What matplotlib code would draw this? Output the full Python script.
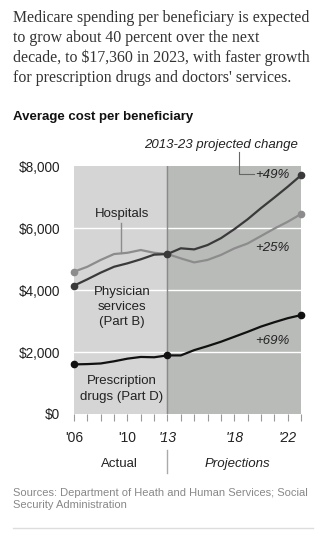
import numpy as np
import matplotlib.pyplot as plt
from matplotlib.ticker import FuncFormatter

# Average cost per beneficiary, dollars
years = list(range(2006, 2024))
physician = [4140, 4345, 4560, 4750, 4860, 4990, 5140, 5160, 5345, 5310,
             5450, 5670, 5960, 6280, 6640, 6980, 7330, 7700]
hospitals = [4590, 4750, 4970, 5160, 5200, 5290, 5200, 5160, 5020, 4890,
             4970, 5130, 5340, 5500, 5740, 5980, 6200, 6450]
drugs = [1600, 1610, 1630, 1700, 1785, 1840, 1830, 1890, 1890, 2060,
         2190, 2330, 2490, 2650, 2820, 2960, 3090, 3190]
changes = ["+49%", "+25%", "+69%"]
yticks = [0, 2000, 4000, 6000, 8000]
xlabel_years = [2006, 2010, 2013, 2018, 2022]

sans = "Liberation Sans"
serif = "Liberation Serif"
W, H = 324, 537

fig = plt.figure(figsize=(W / 100, H / 100), dpi=100)
fig.patch.set_facecolor("white")

def fx(px):
    return px / W

def fy(py):
    return 1 - py / H

ax = fig.add_axes([fx(74), fy(414), fx(301) - fx(74), fy(166) - fy(414)])
ax.set_xlim(2006, 2023)
ax.set_ylim(0, 8000)

# shaded periods
ax.axvspan(2006, 2013, color="#d5d5d5", zorder=0)
ax.axvspan(2013, 2023, color="#b9bbb9", zorder=0)
for v in yticks[1:-1]:
    ax.axhline(v, color="white", lw=1.0, zorder=1)
ax.axvline(2013, color="#8a8a8a", lw=1.0, zorder=1)

ax.plot(years, hospitals, color="#8c8c8c", lw=1.6, zorder=3)
ax.plot(years, physician, color="#3a3a3a", lw=1.6, zorder=4)
ax.plot(years, drugs, color="#111111", lw=1.6, zorder=4)

ends = [0, 7, -1]
ax.plot([years[i] for i in ends], [hospitals[i] for i in ends], "o",
        color="#8c8c8c", ms=4.5, zorder=3, clip_on=False)
ax.plot([years[i] for i in ends], [physician[i] for i in ends], "o",
        color="#3a3a3a", ms=4.5, zorder=5, clip_on=False)
ax.plot([years[i] for i in ends], [drugs[i] for i in ends], "o",
        color="#111111", ms=4.5, zorder=5, clip_on=False)

for s in ax.spines.values():
    s.set_visible(False)

ax.set_yticks(yticks)
ax.yaxis.set_major_formatter(FuncFormatter(lambda v, p: "${:,.0f}".format(v)))
ax.tick_params(axis="y", length=0, pad=10, labelsize=9.8, labelcolor="#222222")
for lab in ax.get_yticklabels():
    lab.set_family(sans)

ax.set_xticks(years)
ax.set_xticklabels([])
ax.tick_params(axis="x", length=5, width=0.8, color="#999999", direction="out")

# year labels: actual years upright, projected years italic
for y in xlabel_years:
    fig.text(fx(74 + (y - 2006) * 227 / 17), fy(438), "'" + str(y)[2:],
             ha="center", va="center", fontsize=10, family=sans,
             style="italic" if y >= 2013 else "normal", color="#222222")

x13 = fx(74 + 7 * 227 / 17)
fig.add_artist(plt.Line2D([x13, x13], [fy(450), fy(473)], color="#aaaaaa", lw=1))
fig.text(fx(119), fy(464), "Actual", ha="center", va="center", fontsize=9.5,
         family=sans, color="#222222")
fig.text(fx(237), fy(464), "Projections", ha="center", va="center", fontsize=9.5,
         family=sans, style="italic", color="#222222")

# series labels
fig.text(fx(122), fy(214), "Hospitals", ha="center", va="center", fontsize=9.5,
         family=sans, color="#222222")
ax.plot([2009.5, 2009.5], [5180, 6150], color="#8c8c8c", lw=1, zorder=2)
fig.text(fx(122), fy(307), "Physician\nservices\n(Part B)", ha="center",
         va="center", fontsize=9.5, family=sans, color="#222222", linespacing=1.35)
fig.text(fx(122), fy(389), "Prescription\ndrugs (Part D)", ha="center",
         va="center", fontsize=9.5, family=sans, color="#222222", linespacing=1.35)

# projected change annotations
fig.text(fx(221), fy(145), "2013-23 projected change", ha="center", va="center",
         fontsize=9.5, family=sans, style="italic", color="#222222")
fig.add_artist(plt.Line2D([fx(239), fx(239), fx(254)], [fy(152), fy(174), fy(174)],
                          color="#666666", lw=0.8))
for lab, py in zip(changes, [175, 248, 341]):
    fig.text(fx(289), fy(py), lab, ha="right", va="center", fontsize=9.5,
             family=sans, style="italic", color="#222222")

# headline and chart title
fig.text(fx(13), fy(10), "Medicare spending per beneficiary is expected\n"
         "to grow about 40 percent over the next\n"
         "decade, to \\$17,360 in 2023, with faster growth\n"
         "for prescription drugs and doctors' services.",
         ha="left", va="top", fontsize=11.4, family=serif, color="#333333",
         linespacing=1.32)
fig.text(fx(13), fy(117), "Average cost per beneficiary", ha="left", va="center",
         fontsize=9.5, family=sans, weight="bold", color="#111111")

fig.text(fx(13), fy(499), "Sources: Department of Heath and Human Services; Social\n"
         "Security Administration", ha="left", va="center", fontsize=8,
         family=sans, color="#888888", linespacing=1.3)
fig.add_artist(plt.Line2D([fx(13), fx(313)], [fy(528), fy(528)], color="#dddddd", lw=1))

fig.savefig("out.png", dpi=100)
